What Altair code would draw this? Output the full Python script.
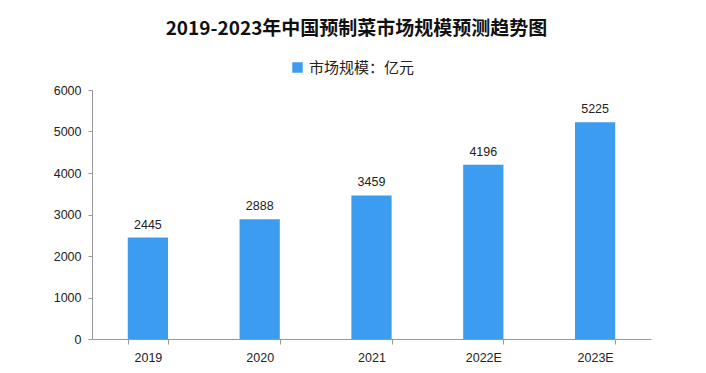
import altair as alt
import pandas as pd

years = ["2019", "2020", "2021", "2022E", "2023E"]
values = [2445, 2888, 3459, 4196, 5225]
series = "市场规模：亿元"

df = pd.DataFrame({"year": years, "value": values, "series": [series] * len(years)})

BAR = "#3C9DF0"
FONT_CJK = "Noto Sans CJK SC"
FONT_NUM = "Liberation Sans"

x = alt.X("year:N", sort=years, title=None,
          scale=alt.Scale(paddingInner=0.64, paddingOuter=0.32),
          axis=alt.Axis(labelAngle=0, tickBand="extent", tickSize=5, domainColor="#999999",
                        tickColor="#999999", labelFont=FONT_NUM, labelFontSize=12.5,
                        labelColor="#222222", labelPadding=7, grid=False))
y = alt.Y("value:Q", title=None,
          scale=alt.Scale(domain=[0, 6000], nice=False),
          axis=alt.Axis(values=[0, 1000, 2000, 3000, 4000, 5000, 6000], tickSize=4, format="d",
                        domainColor="#999999", tickColor="#999999", labelFont=FONT_NUM,
                        labelFontSize=12.5, labelColor="#222222", labelPadding=7, grid=False))

bars = alt.Chart(df).mark_bar(color=BAR).encode(
    x=x, y=y,
    color=alt.Color("series:N", scale=alt.Scale(range=[BAR]),
                    legend=alt.Legend(title=None, orient="none", legendX=198, legendY=-30,
                                      symbolType="square", symbolSize=110,
                                      labelFont=FONT_CJK, labelFontSize=15,
                                      labelColor="#222222")),
)

labels = alt.Chart(df).mark_text(baseline="bottom", dy=-6, font=FONT_NUM, fontSize=12.5,
                                 color="#222222").encode(
    x=alt.X("year:N", sort=years), y="value:Q", text="value:Q")

chart = (bars + labels).properties(
    width=559, height=249,
    title=alt.TitleParams("2019-2023年中国预制菜市场规模预测趋势图", font=FONT_CJK,
                          fontSize=19, fontWeight="bold", color="#111111",
                          anchor="middle", dx=-15, offset=21),
    padding={"left": 84, "top": 82, "right": 10, "bottom": 30},
    autosize=alt.AutoSizeParams(type="none"),
).configure_view(stroke=None)

chart.save("out.html", embed_options={"renderer": "svg", "actions": False})
